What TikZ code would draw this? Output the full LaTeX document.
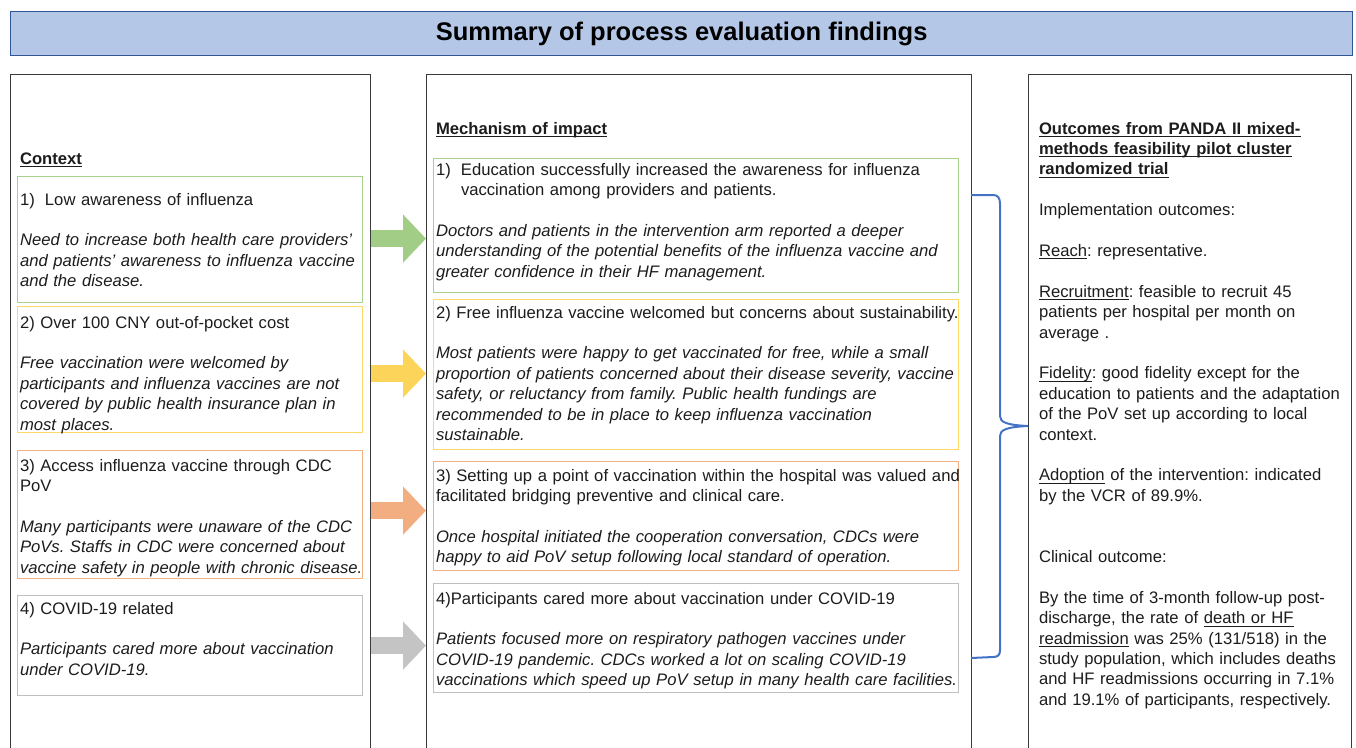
\documentclass[tikz,border=0pt]{standalone}
\usepackage{fontspec}
\setmainfont{Liberation Sans}
\usetikzlibrary{arrows.meta,calc}
\definecolor{ink}{HTML}{1C1C1C}
\definecolor{frame}{HTML}{3A3A3A}
\definecolor{titlefill}{HTML}{B4C7E7}
\definecolor{titledraw}{HTML}{2F5597}
\definecolor{gbox}{HTML}{A9D18E}
\definecolor{ybox}{HTML}{FFD966}
\definecolor{obox}{HTML}{F4B183}
\definecolor{kbox}{HTML}{BFBFBF}
\definecolor{garrow}{HTML}{A1CD86}
\definecolor{yarrow}{HTML}{FDD45A}
\definecolor{oarrow}{HTML}{F2AE80}
\definecolor{karrow}{HTML}{C4C4C4}
\definecolor{bracecol}{HTML}{4472C4}
\newcommand{\bodyfont}{\fontsize{16.65}{20.4}\selectfont\frenchspacing}
\newsavebox{\ulbox}
\newcommand{\myul}[1]{\leavevmode\sbox{\ulbox}{#1}\rlap{\rule[-3pt]{\wd\ulbox}{1.1pt}}\usebox{\ulbox}}
\begin{document}
\begin{tikzpicture}[x=1pt,y=-1pt,
  colbox/.style={draw=frame, line width=1.3pt, anchor=north west, inner sep=0pt},
  itembox/.style={draw=#1, line width=1.2pt, anchor=north west, inner sep=0pt},
  txt/.style={anchor=north west, inner sep=0pt, outer sep=0pt, text width=600pt, align=left, font=\bodyfont, text=ink, yshift=14.28pt},
  fatarrow/.style={draw=#1, line width=17pt, -{Triangle[length=23pt,width=47pt]}},
  bracket/.style={draw=bracecol, line width=2pt}]
\useasboundingbox (0,0) rectangle (1356,747);
\clip (0,0) rectangle (1356,747);
\node[draw=titledraw, fill=titlefill, line width=1.2pt, anchor=north west, minimum width=1342pt, minimum height=44pt, inner sep=0pt, font=\fontsize{25.5}{30}\selectfont\bfseries, text=black] (title) at (10,11) {Summary of process evaluation findings};
% columns
\node[colbox, minimum width=360pt, minimum height=720pt] (ctx) at (10,74) {};
\node[colbox, minimum width=545pt, minimum height=720pt] (mech) at (426,74) {};
\node[colbox, minimum width=323pt, minimum height=720pt] (outc) at (1028,74) {};
% item boxes
\node[itembox=gbox, minimum width=345pt, minimum height=126pt] (c1) at (17,176) {};
\node[itembox=ybox, minimum width=345pt, minimum height=126pt] (c2) at (17,306) {};
\node[itembox=obox, minimum width=345pt, minimum height=128pt] (c3) at (17,450) {};
\node[itembox=kbox, minimum width=345pt, minimum height=100pt] (c4) at (17,595) {};
\node[itembox=gbox, minimum width=525pt, minimum height=134pt] (m1) at (433,158) {};
\node[itembox=ybox, minimum width=525pt, minimum height=150pt] (m2) at (433,299) {};
\node[itembox=obox, minimum width=525pt, minimum height=109pt] (m3) at (433,461) {};
\node[itembox=kbox, minimum width=525pt, minimum height=109pt] (m4) at (433,583) {};
% arrows
\draw[fatarrow=garrow] ($(c1.east -| ctx.east)+(0,-1)$) -- ($(c1.east -| mech.west)+(0,-1)$);
\draw[fatarrow=yarrow] ($(c2.east -| ctx.east)+(0,4)$) -- ($(c2.east -| mech.west)+(0,4)$);
\draw[fatarrow=oarrow] ($(c3.east -| ctx.east)+(0,-4)$) -- ($(c3.east -| mech.west)+(0,-4)$);
\draw[fatarrow=karrow] (c4.east -| ctx.east) -- (c4.east -| mech.west);
% bracket
\coordinate (bt) at (971,195);
\coordinate (btip) at (outc.west |- 0,426);
\coordinate (bb) at (971,658);
\draw[bracket] (bt) -- (993,195) .. controls (998,195) and (1000,198) .. (1000,204) -- (1000,416) .. controls (1000,422) and (1006,425) .. (btip) .. controls (1006,427) and (1000,430) .. (1000,436) -- (1000,650) .. controls (1000,655) and (998,657) .. (993,657) -- (bb);
% context texts
\node[txt, font=\bodyfont\bfseries] (ctxh) at (20,164) {\strut\myul{Context}};
\node[txt] (c1t) at (20,205) {\strut\makebox[25pt][l]{1)}Low awareness of influenza\\[20.4pt]
\itshape Need to increase both health care providers'\\
and patients' awareness to influenza vaccine\\
and the disease.};
\node[txt] (c2t) at (20,328) {\strut 2) Over 100 CNY out-of-pocket cost\\[20.4pt]
\itshape Free vaccination were welcomed by\\
participants and influenza vaccines are not\\
covered by public health insurance plan in\\
most places.};
\node[txt] (c3t) at (20,471) {\strut 3) Access influenza vaccine through CDC\\
PoV\\[20.4pt]
\itshape Many participants were unaware of the CDC\\
PoVs. Staffs in CDC were concerned about\\
vaccine safety in people with chronic disease.};
\node[txt] (c4t) at (20,614) {\strut 4) COVID-19 related\\[20.4pt]
\itshape Participants cared more about vaccination\\
under COVID-19.};
% mechanism texts
\node[txt, font=\bodyfont\bfseries] (mechh) at (436,134) {\strut\myul{Mechanism of impact}};
\node[txt] (m1t) at (436,175) {\strut\makebox[25pt][l]{1)}Education successfully increased the awareness for influenza\\
\hspace*{25pt}vaccination among providers and patients.\\[20.4pt]
\itshape Doctors and patients in the intervention arm reported a deeper\\
understanding of the potential benefits of the influenza vaccine and\\
greater confidence in their HF management.};
\node[txt] (m2t) at (436,318) {\strut 2) Free influenza vaccine welcomed but concerns about sustainability.\\[20.4pt]
\itshape Most patients were happy to get vaccinated for free, while a small\\
proportion of patients concerned about their disease severity, vaccine\\
safety, or reluctancy from family. Public health fundings are\\
recommended to be in place to keep influenza vaccination\\
sustainable.};
\node[txt] (m3t) at (436,481) {\strut 3) Setting up a point of vaccination within the hospital was valued and\\
facilitated bridging preventive and clinical care.\\[20.4pt]
\itshape Once hospital initiated the cooperation conversation, CDCs were\\
happy to aid PoV setup following local standard of operation.};
\node[txt] (m4t) at (436,604) {\strut 4)Participants cared more about vaccination under COVID-19\\[20.4pt]
\itshape Patients focused more on respiratory pathogen vaccines under\\
COVID-19 pandemic. CDCs worked a lot on scaling COVID-19\\
vaccinations which speed up PoV setup in many health care facilities.};
% outcomes text
\node[txt] (outt) at (1039,134) {\strut\textbf{\myul{Outcomes from PANDA II mixed-}}\\
\textbf{\myul{methods feasibility pilot cluster}}\\
\textbf{\myul{randomized trial}}\\[20.4pt]
Implementation outcomes:\\[20.4pt]
\myul{Reach}: representative.\\[20.4pt]
\myul{Recruitment}: feasible to recruit 45\\
patients per hospital per month on\\
average .\\[20.4pt]
\myul{Fidelity}: good fidelity except for the\\
education to patients and the adaptation\\
of the PoV set up according to local\\
context.\\[20.4pt]
\myul{Adoption} of the intervention: indicated\\
by the VCR of 89.9\%.\\[40.8pt]
Clinical outcome:\\[20.4pt]
By the time of 3-month follow-up post-\\
discharge, the rate of \myul{death or HF}\\
\myul{readmission} was 25\% (131/518) in the\\
study population, which includes deaths\\
and HF readmissions occurring in 7.1\%\\
and 19.1\% of participants, respectively.};
\end{tikzpicture}
\end{document}
